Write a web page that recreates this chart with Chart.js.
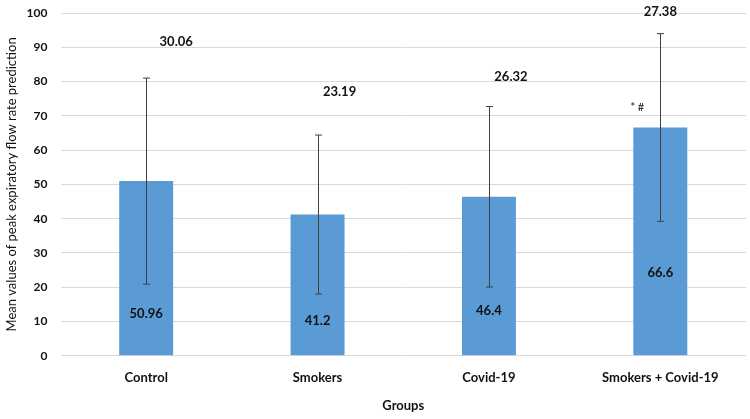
<!DOCTYPE html>
<html>
<head>
<meta charset="utf-8">
<script src="https://cdn.jsdelivr.net/npm/chart.js@4"></script>
<style>
  html, body { margin: 0; padding: 0; background: #fff; }
  #wrap { width: 750px; height: 419px; }
</style>
</head>
<body>
<div id="wrap"><canvas id="grafiek" width="750" height="419"></canvas></div>
<script>
const groepen = ["Control", "Smokers", "Covid-19", "Smokers + Covid-19"];
const gemiddelden = [50.96, 41.2, 46.4, 66.6];
const sd = [30.06, 23.19, 26.32, 27.38];
const yTicks = [0, 10, 20, 30, 40, 50, 60, 70, 80, 90, 100];

// where the labels sit, in axis units
const sdLabelY = [91.5, 77, 81.5, 100.3];
const sdLabelDx = [30, 22, 22, 0];
const meanLabelY = [12.3, 10.2, 13, 24.3];

const foutbalken = {
    id: "foutbalken",
    afterDatasetsDraw(chart) {
        const c = chart.ctx;
        const x = chart.scales.x;
        const y = chart.scales.y;
        c.save();
        c.strokeStyle = "#404040";
        c.lineWidth = 1;
        gemiddelden.forEach((m, i) => {
            const px = Math.round(x.getPixelForValue(i)) + 0.5;
            const top = y.getPixelForValue(m + sd[i]);
            const bot = y.getPixelForValue(m - sd[i]);
            c.beginPath();
            c.moveTo(px, top); c.lineTo(px, bot);
            c.moveTo(px - 3.5, top); c.lineTo(px + 3.5, top);
            c.moveTo(px - 3.5, bot); c.lineTo(px + 3.5, bot);
            c.stroke();
        });
        c.fillStyle = "#111";
        c.textAlign = "center";
        c.textBaseline = "middle";
        c.font = "bold 13px Lato";
        gemiddelden.forEach((m, i) => {
            const px = x.getPixelForValue(i);
            c.fillText(sd[i].toFixed(2), px + sdLabelDx[i], y.getPixelForValue(sdLabelY[i]));
            c.fillText(String(m), px, y.getPixelForValue(meanLabelY[i]));
        });
        c.font = "11px Lato";
        c.fillText("* #", x.getPixelForValue(3) - 23, y.getPixelForValue(72.5));
        c.restore();
    }
};

const ctx = document.getElementById("grafiek").getContext("2d");
new Chart(ctx, {
    type: "bar",
    data: {
        labels: groepen,
        datasets: [{
            label: "Mean",
            data: gemiddelden,
            backgroundColor: "#5b9bd5",
            borderWidth: 0,
            barPercentage: 0.315,
            categoryPercentage: 1
        }]
    },
    options: {
        responsive: false,
        animation: false,
        layout: { padding: { top: 13, right: 4, left: 4, bottom: 1 } },
        plugins: {
            legend: { display: false },
            tooltip: { enabled: false }
        },
        scales: {
            x: {
                grid: { display: false },
                border: { display: false },
                ticks: { color: "#111", font: { family: "Lato", size: 13, weight: "bold" }, padding: 6 },
                title: { display: true, text: "Groups", color: "#111", font: { family: "Lato", size: 13, weight: "bold" }, padding: { top: 7 } }
            },
            y: {
                min: 0,
                max: 100,
                afterBuildTicks(axis) { axis.ticks = yTicks.map(v => ({ value: v })); },
                afterFit(axis) { axis.paddingTop = 0; axis.width = 56.5; },
                grid: { color: "#d9d9d9", drawTicks: false },
                border: { display: false },
                ticks: { color: "#111", font: { family: "Lato", size: 12, weight: "bold" }, padding: 13 },
                title: { display: true, text: "Mean values of peak expiratory flow rate prediction", color: "#111", font: { family: "Lato", size: 13 }, padding: { bottom: 0, top: 0 } }
            }
        }
    },
    plugins: [foutbalken]
});
</script>
</body>
</html>
